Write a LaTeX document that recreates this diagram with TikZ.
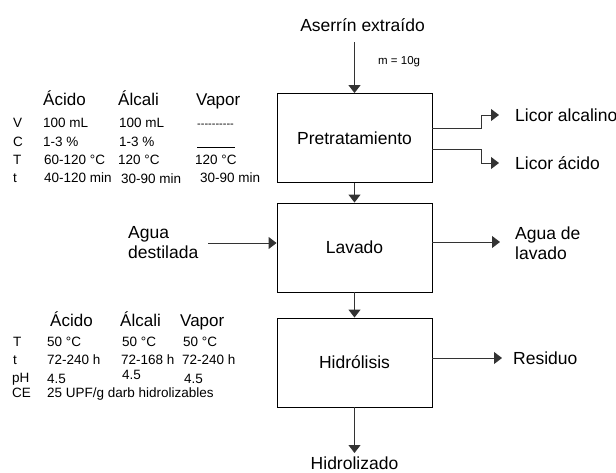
\documentclass[tikz,border=0pt]{standalone}
\usepackage{fontspec}
\setmainfont{Liberation Sans}
\newfontfamily\plainfont{Liberation Sans}
\usetikzlibrary{arrows.meta}
\begin{document}
\begin{tikzpicture}[x=1pt,y=-1pt,
  box/.style={draw=black,line width=0.9pt,minimum width=155pt,minimum height=89pt,inner sep=0pt,font=\fontsize{17.5}{20}\selectfont},
  lbl/.style={inner sep=0pt,font=\fontsize{17.5}{20}\selectfont},
  hdr/.style={inner sep=0pt,anchor=base west,font=\fontsize{17}{20}\selectfont},
  val/.style={inner sep=0pt,anchor=base west,font=\fontsize{13.5}{16}\selectfont},
  flow/.style={draw=black!80,line width=1pt,-{Triangle[length=8pt,width=12pt]}},
]
\useasboundingbox (0,0) rectangle (616,472);
% process boxes
\node[box] (pre) at (354.5,138) {Pretratamiento};
\node[box] (lav) at (354.5,247.5) {Lavado};
\node[box] (hid) at (354.5,362.5) {Hidrólisis};
% top input
\node[lbl,anchor=base] (ase) at (362.5,31) {Aserrín extraído};
\coordinate (topin) at (354.5,42);
\draw[flow] (topin) -- (pre.north);
\node[inner sep=0pt,anchor=base west,font=\fontsize{11.5}{13}\selectfont] (m) at (378,64) {m = 10g};
% main flow
\draw[flow] (pre.south) -- (lav.north);
\draw[flow] (lav.south) -- (hid.north);
\node[lbl] (hz) at (354.5,463) {Hidrolizado};
\coordinate (hzin) at (354.5,453);
\draw[flow] (hid.south) -- (hzin);
% pretratamiento outputs
\node[lbl,anchor=west] (la) at (515,115) {Licor alcalino};
\node[lbl,anchor=west] (lac) at (515,163) {Licor ácido};
\draw[flow] ([yshift=10pt]pre.east) -- ++(49,0) |- ([xshift=-16pt]la.west);
\draw[flow] ([yshift=-11pt]pre.east) -- ++(49,0) |- ([xshift=-16pt]lac.west);
% lavado
\node[lbl,anchor=west,align=left] (ad) at (128,243) {Agua\\destilada};
\coordinate (adout) at (208,243);
\draw[flow] (adout) -- (lav.west |- adout);
\node[lbl,anchor=west,align=left] (al) at (515,243) {Agua de\\lavado};
\coordinate (alin) at (500,242);
\draw[flow] (lav.east |- alin) -- (alin);
% hidrolisis output
\node[lbl,anchor=west] (res) at (513,358) {Residuo};
\draw[flow] (hid.east |- res.west) -- ([xshift=-11pt]res.west);
% table 1
\node[hdr] (a1) at (43,105) {Ácido};
\node[hdr] (b1) at (118,105) {Álcali};
\node[hdr] (c1) at (196,105) {Vapor};
\node[val] (v0) at (13,127) {V};
\node[val] (c0) at (13,146) {C};
\node[val] (tt0) at (13,164) {T};
\node[val] (t0) at (13,182) {t};
\node[val] (v1) at (43,127) {100 mL};
\node[val] (cc1) at (43,146) {1-3 \%};
\node[val] (tt1) at (44,164) {60-120 °C};
\node[val] (t1) at (44,182) {40-120 min};
\node[val] (v2) at (119,127) {100 mL};
\node[val] (cc2) at (119,146) {1-3 \%};
\node[val] (tt2) at (118,164) {120 °C};
\node[val] (t2) at (121,183) {30-90 min};
\node[val,font=\plainfont\fontsize{11}{13}\selectfont] (v3) at (197,127) {----------};
\coordinate (cl1) at (197,147);
\coordinate (cl2) at (235,147);
\draw[line width=0.8pt] (cl1) -- (cl2);
\node[val] (tt3) at (195,164) {120 °C};
\node[val] (t3) at (200,182) {30-90 min};
% table 2
\node[hdr] (a2) at (50,326) {Ácido};
\node[hdr] (b2) at (120,326) {Álcali};
\node[hdr] (c2) at (180,326) {Vapor};
\node[val] (h0) at (13,346) {T};
\node[val] (i0) at (13,364) {t};
\node[val] (j0) at (12,382) {pH};
\node[val] (k0) at (12,397) {CE};
\node[val] (h1) at (47,346) {50 °C};
\node[val] (i1) at (47,364) {72-240 h};
\node[val] (j1) at (47,383) {4.5};
\node[val] (k1) at (47,397) {25 UPF/g darb hidrolizables};
\node[val] (h2) at (122,346) {50 °C};
\node[val] (i2) at (121,364) {72-168 h};
\node[val] (j2) at (122,379) {4.5};
\node[val] (h3) at (183,346) {50 °C};
\node[val] (i3) at (182,364) {72-240 h};
\node[val] (j3) at (184,383) {4.5};
\end{tikzpicture}
\end{document}
